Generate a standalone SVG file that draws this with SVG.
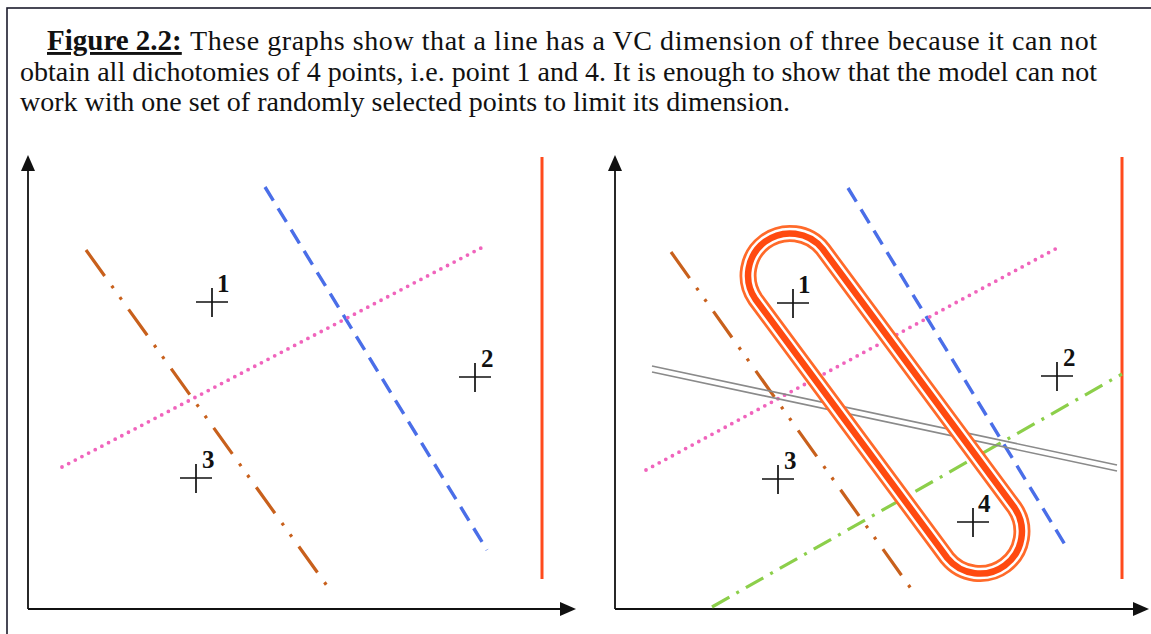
<svg xmlns="http://www.w3.org/2000/svg" width="1151" height="634" viewBox="0 0 1151 634">
<style>
.cap{font-family:"Liberation Serif","Times New Roman",serif;fill:#111;}
.body{font-size:28px;}
.fig{font-size:29px;font-weight:bold;text-decoration:underline;}
.lbl{font-family:"Liberation Serif","Times New Roman",serif;font-size:25px;font-weight:bold;fill:#111;}
.axis{stroke:#111;stroke-width:1.8;fill:none;}
.head{fill:#111;}
.cross{stroke:#111;stroke-width:1.7;fill:none;}
.red{stroke:#ff4a1c;stroke-width:3;fill:none;}
.blue{stroke:#4a6ee8;stroke-width:3.4;fill:none;stroke-dasharray:16 9;}
.pink{stroke:#f064bc;stroke-width:3.8;fill:none;stroke-dasharray:0 7.5;stroke-linecap:round;}
.brown{stroke:#c8601c;stroke-width:3.2;fill:none;stroke-dasharray:32 12 3 11 3 12;}
.green{stroke:#8ccf4a;stroke-width:3.2;fill:none;stroke-dasharray:20 8 3 8;}
.gray{stroke:#8a8a8a;stroke-width:1.6;fill:none;}
.cap-o{fill:none;stroke:#ff6a2a;stroke-width:17;}
.cap-w{fill:none;stroke:#ffffff;stroke-width:11.5;}
.cap-r{fill:none;stroke:#ff4a10;stroke-width:6.5;}
</style>
<defs>
<path id="caps" d="M755.3 299 A42 42 0 0 1 822.7 249 L1014.7 508 A42 42 0 0 1 947.3 558 Z"/>
</defs>
<rect x="0" y="0" width="1151" height="634" fill="#ffffff"/>
<rect x="7" y="8" width="1160" height="640" fill="none" stroke="#1c1c2c" stroke-width="1.6"/>

<g id="caption">
<text class="cap fig" x="47" y="50">Figure 2.2:</text>
<text class="cap body" x="190" y="50" textLength="907" lengthAdjust="spacing">These graphs show that a line has a VC dimension of three because it can not</text>
<text class="cap body" x="20" y="81" textLength="1077" lengthAdjust="spacing">obtain all dichotomies of 4 points, i.e. point 1 and 4. It is enough to show that the model can not</text>
<text class="cap body" x="20" y="111">work with one set of randomly selected points to limit its dimension.</text>
</g>

<g id="left-panel">
<g id="left-axes">
<line class="axis" x1="28" y1="609" x2="28" y2="168"/>
<polygon class="head" points="28,155 21,171 35,171"/>
<line class="axis" x1="28" y1="609" x2="562" y2="609"/>
<polygon class="head" points="576,609 560,602 560,616"/>
</g>
<g id="left-lines">
<line class="red" x1="542" y1="157" x2="542" y2="579"/>
<line class="blue" x1="265" y1="187" x2="487" y2="550"/>
<line class="pink" x1="62" y1="467" x2="481" y2="248"/>
<line class="brown" x1="86" y1="250" x2="330" y2="590"/>
</g>
<g id="left-p1"><path class="cross" d="M196 302H228M212 288V317"/><text class="lbl" x="217" y="292">1</text></g>
<g id="left-p2"><path class="cross" d="M459 377H491M475 363V392"/><text class="lbl" x="481" y="367">2</text></g>
<g id="left-p3"><path class="cross" d="M180 478H212M196 464V493"/><text class="lbl" x="202" y="468">3</text></g>
</g>

<g id="right-panel">
<g id="right-axes">
<line class="axis" x1="615" y1="609" x2="615" y2="168"/>
<polygon class="head" points="615,155 608,171 622,171"/>
<line class="axis" x1="615" y1="609" x2="1134" y2="609"/>
<polygon class="head" points="1149,609 1133,602 1133,616"/>
</g>
<g id="right-lines">
<line class="red" x1="1122" y1="157" x2="1122" y2="579"/>
<line class="blue" x1="848" y1="188" x2="1067" y2="548"/>
<line class="pink" x1="646" y1="470" x2="1059" y2="247"/>
<line class="brown" x1="671" y1="252" x2="912" y2="590"/>
<line class="green" x1="712" y1="607" x2="1122" y2="374"/>
<line class="gray" x1="652" y1="366" x2="1117" y2="465"/>
<line class="gray" x1="652" y1="372" x2="1117" y2="471"/>
</g>
<g id="capsule">
<use href="#caps" class="cap-o"/>
<use href="#caps" class="cap-w"/>
<use href="#caps" class="cap-r"/>
</g>
<g id="right-p1"><path class="cross" d="M777 303H809M793 289V318"/><text class="lbl" x="798" y="293">1</text></g>
<g id="right-p2"><path class="cross" d="M1041 376H1073M1057 362V391"/><text class="lbl" x="1063" y="366">2</text></g>
<g id="right-p3"><path class="cross" d="M762 479H794M778 465V494"/><text class="lbl" x="784" y="469">3</text></g>
<g id="right-p4"><path class="cross" d="M957 522H989M973 508V537"/><text class="lbl" x="978" y="512">4</text></g>
</g>
</svg>
